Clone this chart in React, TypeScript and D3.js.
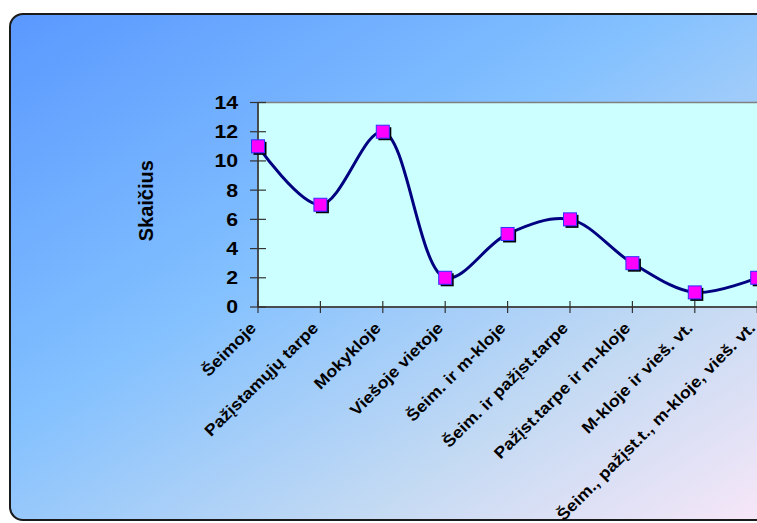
import React from "react";
import * as d3 from "d3";

const categories = [
  "Šeimoje",
  "Pažįstamųjų tarpe",
  "Mokykloje",
  "Viešoje vietoje",
  "Šeim. ir m-kloje",
  "Šeim. ir pažįst.tarpe",
  "Pažįst.tarpe ir m-kloje",
  "M-kloje ir vieš. vt.",
  "Šeim., pažįst.t., m-kloje, vieš. vt.",
];
const values = [11, 7, 12, 2, 5, 6, 3, 1, 2];
const yTicks = [0, 2, 4, 6, 8, 10, 12, 14];
const yTitle = "Skaičius";

const W = 757;
const H = 523;
const plotLeft = 258;
const plotTop = 102.5;
const plotBottom = 307;
const step = 62.4;

export default function App() {
  const x = d3
    .scalePoint<string>()
    .domain(categories)
    .range([plotLeft, plotLeft + step * (categories.length - 1)]);
  const y = d3.scaleLinear().domain([0, 14]).range([plotBottom, plotTop]);
  const line = d3
    .line<number>()
    .x((_, i) => x(categories[i])!)
    .y((d) => y(d))
    .curve(d3.curveCatmullRom.alpha(0.5));
  const font = "'Liberation Sans', Arial, sans-serif";
  const ms = 13;
  return (
    <svg
      width={W}
      height={H}
      style={{ position: "absolute", left: 0, top: 0, display: "block" }}
    >
      <defs>
        <linearGradient id="bg" x1="0" y1="0" x2="1" y2="1">
          <stop offset="0" stopColor="#5a98ff" />
          <stop offset="0.4" stopColor="#82c0ff" />
          <stop offset="0.72" stopColor="#c4daf3" />
          <stop offset="1" stopColor="#fde8f8" />
        </linearGradient>
      </defs>
      <rect width={W} height={H} fill="#ffffff" />
      <rect
        x={10}
        y={14}
        width={800}
        height={506}
        rx={13}
        ry={13}
        fill="url(#bg)"
        stroke="#1a1a1a"
        strokeWidth={2}
      />
      {/* plot area */}
      <rect
        x={plotLeft}
        y={plotTop}
        width={560}
        height={plotBottom - plotTop}
        fill="#ccffff"
        stroke="#808080"
        strokeWidth={1.5}
      />
      {/* y axis */}
      <line x1={plotLeft} x2={plotLeft} y1={plotTop} y2={plotBottom} stroke="#333" strokeWidth={1.5} />
      {yTicks.map((t) => (
        <g key={t}>
          <line x1={plotLeft - 8} x2={plotLeft + 8} y1={y(t)} y2={y(t)} stroke="#333" strokeWidth={1.2} />
          <text
            transform={`translate(${plotLeft - 20},${y(t)}) scale(1.18,1)`}
            dy="0.36em"
            textAnchor="end"
            fontFamily={font}
            fontWeight="bold"
            fontSize={18}
            fill="#000"
          >
            {t}
          </text>
        </g>
      ))}
      {/* x axis */}
      <line x1={plotLeft} x2={W + 10} y1={plotBottom} y2={plotBottom} stroke="#333" strokeWidth={1.5} />
      {categories.map((c) => (
        <g key={c}>
          <line x1={x(c)!} x2={x(c)!} y1={plotBottom - 6} y2={plotBottom + 6} stroke="#333" strokeWidth={1.2} />
          <text
            transform={`translate(${x(c)! - 5},${plotBottom + 18}) rotate(-45) scale(1.12,1)`}
            textAnchor="end"
            dy="0.35em"
            fontFamily={font}
            fontWeight="bold"
            fontSize={16}
            fill="#000"
          >
            {c}
          </text>
        </g>
      ))}
      {/* title */}
      <text
        transform={`translate(153,${(plotTop + plotBottom) / 2 - 4}) rotate(-90)`}
        textAnchor="middle"
        fontFamily={font}
        fontWeight="bold"
        fontSize={20}
        fill="#000"
      >
        {yTitle}
      </text>
      {/* line */}
      <path d={line(values)!} fill="none" stroke="#000080" strokeWidth={3} />
      {values.map((v, i) => (
        <g key={i}>
          <rect
            x={x(categories[i])! - ms / 2 + 2}
            y={y(v) - ms / 2 + 2}
            width={ms}
            height={ms}
            fill="#000"
          />
          <rect
            x={x(categories[i])! - ms / 2}
            y={y(v) - ms / 2}
            width={ms}
            height={ms}
            fill="#ff00ff"
            stroke="#3030ff"
            strokeWidth={1}
          />
        </g>
      ))}
    </svg>
  );
}
